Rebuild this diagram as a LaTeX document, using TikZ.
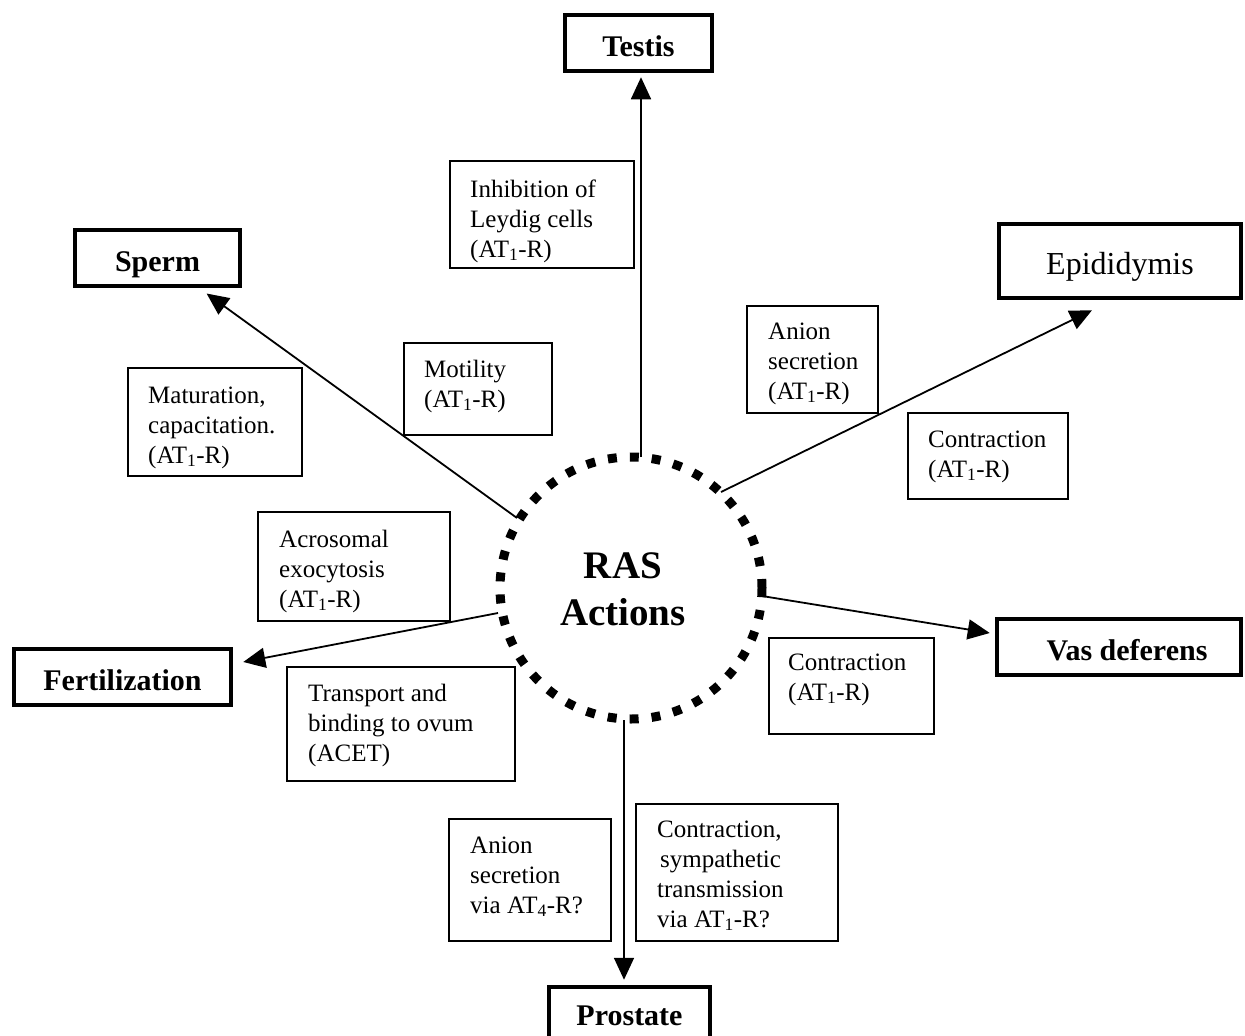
\documentclass[tikz,border=0pt]{standalone}
\usepackage{fontspec}
\setmainfont{Liberation Serif}
\usetikzlibrary{arrows.meta,calc}
\tikzset{
  organ/.style={draw, line width=4.5pt, rectangle, inner sep=0pt,
    font=\fontsize{30}{36}\selectfont\bfseries, text height=26pt, text depth=0pt},
  smallbox/.style={draw, line width=1.5pt, rectangle, inner sep=0pt, anchor=north west},
  txt/.style={inner sep=0pt, anchor=base west, font=\fontsize{25}{30}\selectfont},
  arr/.style={line width=1.8pt, -{Triangle[length=22pt,width=20pt]}},
  rascircle/.style={circle, draw, line width=9pt, dash pattern=on 9pt off 13pt,
    minimum size=262pt, inner sep=0pt},
  rastext/.style={inner sep=0pt, font=\fontsize{39}{47}\selectfont\bfseries, align=center}
}
\newcommand\rasbox[8]{%
  \node[smallbox, minimum width={#4-#2}, minimum height={#5-#3}] (#1) at (#2,#3) {};
  \node[txt] (#1t) at (#6,#7) {\begin{tabular}[t]{@{}l@{}}#8\end{tabular}};}
\newcommand\ATone{AT\textsubscript{1}}
\begin{document}
\begin{tikzpicture}[x=1pt,y=-1pt]
\useasboundingbox (0,0) rectangle (1245,1036);

% centre
\node[rascircle] (ras) at (631,588) {};
\node[rastext] (raslabel) at (623,589) {RAS\\Actions};

% organ boxes
\node[organ, minimum width=147, minimum height=56] (testis) at (638.5,43) {Testis};
\node[organ, minimum width=165, minimum height=56] (sperm) at (157.5,258) {Sperm};
\node[organ, minimum width=242, minimum height=74, font=\fontsize{32}{38}\selectfont] (epi) at (1120,261) {Epididymis};
\node[organ, minimum width=244, minimum height=56] (vas) at (1119,647) {\hspace*{16pt}Vas deferens};
\node[organ, minimum width=217, minimum height=56] (fert) at (122.5,677) {Fertilization};
\node[organ, minimum width=161, minimum height=63, text height=13pt] (pros) at (629.5,1018.5) {Prostate};

% start points on the circle
\coordinate (sT) at (641,457);
\coordinate (sS) at (517,518);
\coordinate (sE) at (721,492);
\coordinate (sV) at (762,596);
\coordinate (sF) at (498,613);
\coordinate (sP) at (624,720);

% connectors
\draw[arr, shorten >=4pt] (sT) -- (sT |- testis.south);
\draw[arr, shorten >=9pt] (sS) -- (sperm);
\draw[arr] (sE) -- ([xshift=-28pt,yshift=-10pt]epi.south);
\draw[arr] (sV) -- ([xshift=-5pt,yshift=14pt]vas.west);
\draw[arr] (sF) -- ([xshift=10pt,yshift=15pt]fert.east);
\draw[arr, shorten >=5pt] (sP) -- (sP |- pros.north);

% annotation boxes
\rasbox{inh}{449}{160}{633}{267}{470}{197}{Inhibition of\\Leydig cells\\(\ATone-R)}
\rasbox{mat}{127}{367}{301}{475}{148}{403}{Maturation,\\capacitation.\\(\ATone-R)}
\rasbox{mot}{403}{342}{551}{434}{424}{377}{Motility\\(\ATone-R)}
\rasbox{anu}{746}{305}{877}{412}{768}{339}{Anion\\secretion\\(\ATone-R)}
\rasbox{cou}{907}{412}{1067}{498}{928}{447}{Contraction\\(\ATone-R)}
\rasbox{acr}{257}{511}{449}{620}{279}{547}{Acrosomal\\exocytosis\\(\ATone-R)}
\rasbox{tra}{286}{666}{514}{780}{308}{701}{Transport and\\binding to ovum\\(ACET)}
\rasbox{col}{768}{637}{933}{733}{788}{670}{Contraction\\(\ATone-R)}
\rasbox{anl}{448}{818}{610}{940}{470}{853}{Anion\\secretion\\via AT\textsubscript{4}-R?}
\rasbox{cos}{635}{803}{837}{940}{657}{837}{Contraction,\\\hspace{3pt}sympathetic\\transmission\\via \ATone-R?}
\end{tikzpicture}
\end{document}
